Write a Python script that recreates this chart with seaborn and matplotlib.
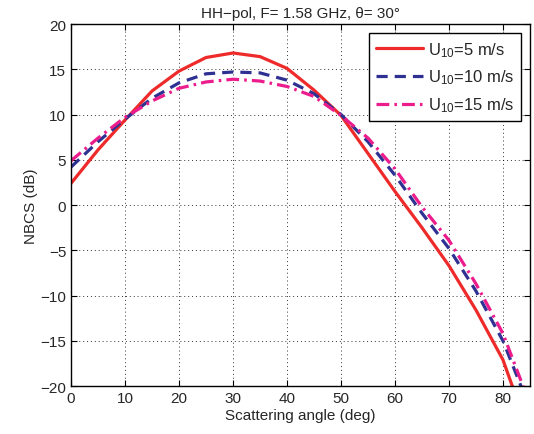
import matplotlib
matplotlib.use("Agg")
import matplotlib.pyplot as plt
import seaborn as sns
import pandas as pd

angles = [0, 5, 10, 15, 20, 25, 30, 35, 40, 45, 50, 55, 60, 65, 70, 75, 80, 85]
nbcs_5 = [2.4, 6.1, 9.4, 12.6, 14.8, 16.3, 16.8, 16.4, 15.1, 12.7, 9.9, 5.7, 1.5, -2.5, -6.7, -11.6, -17.1, -25.5]
nbcs_10 = [4.2, 7.0, 9.5, 11.8, 13.5, 14.5, 14.7, 14.6, 13.8, 12.3, 10.0, 7.0, 3.3, -0.9, -4.8, -9.5, -15.0, -22.5]
nbcs_15 = [4.9, 7.4, 9.7, 11.5, 12.9, 13.6, 13.9, 13.7, 13.1, 12.0, 9.9, 7.4, 4.0, -0.2, -3.9, -8.7, -14.2, -22.0]
labels = [r"U$_{10}$=5 m/s", r"U$_{10}$=10 m/s", r"U$_{10}$=15 m/s"]
colors = ["#ee2a2a", "#2e3192", "#ec1c8c"]
styles = ["-", (0, (3.5, 2.2)), (0, (4, 1.6, 0.8, 1.6))]

sns.set_style("ticks")
plt.rcParams["font.family"] = ["Liberation Sans", "DejaVu Sans"]
plt.rcParams["mathtext.default"] = "regular"

fig = plt.figure(figsize=(5.34, 4.35), dpi=100)
ax = fig.add_axes([0.133, 0.110, 0.8595, 0.8325])

for vals, lab, col, ls in zip([nbcs_5, nbcs_10, nbcs_15], labels, colors, styles):
    df = pd.DataFrame({"angle": angles, "nbcs": vals})
    sns.lineplot(data=df, x="angle", y="nbcs", ax=ax, color=col, label=lab,
                 linewidth=2.3, linestyle=ls)

ax.set_xlim(0, 85)
ax.set_ylim(-20, 20)
ax.set_xticks(range(0, 81, 10))
ax.set_yticks(range(-20, 21, 5))
ax.grid(True, color="black", linestyle=(0, (1, 3)), linewidth=0.7, alpha=0.8)
ax.tick_params(direction="in", top=True, right=True, labelsize=11, length=4, color="black")
for s in ax.spines.values():
    s.set_visible(True)
    s.set_color("black")
    s.set_linewidth(1.0)
ax.set_xlabel("Scattering angle (deg)", fontsize=11, labelpad=2)
ax.set_ylabel("NBCS (dB)", fontsize=11, labelpad=2)
ax.set_title("HH\u2212pol, F= 1.58 GHz, \u03b8= 30\u00b0", fontsize=11, pad=5)

leg = ax.legend(loc="upper right", fontsize=12, frameon=True, fancybox=False,
                handlelength=2.8, borderpad=0.4, labelspacing=0.55,
                handletextpad=0.3, borderaxespad=0.55)
leg.get_frame().set_edgecolor("black")
leg.get_frame().set_linewidth(1.0)
leg.get_frame().set_alpha(1)

fig.savefig("out.png", dpi=100)
